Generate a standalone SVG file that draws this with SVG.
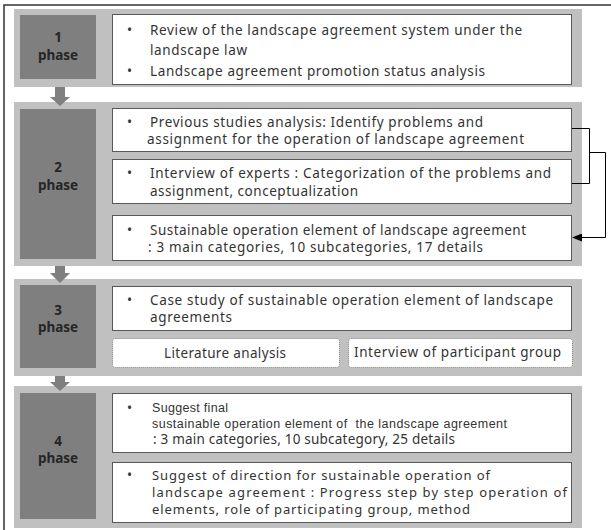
<svg xmlns="http://www.w3.org/2000/svg" width="611" height="530" viewBox="0 0 611 530">
<defs>
<style>
.band{fill:#c0c0c0}
.dark{fill:#7f7f7f}
.box{fill:#fff;stroke:#595959;stroke-width:1}
.dot{fill:#fff;stroke:#7f7f7f;stroke-width:1;stroke-dasharray:1 1}
.t{font-family:"Noto Sans","DejaVu Sans",sans-serif;font-size:13.5px;fill:#333}
.t2{font-size:13px}
.s{font-family:"Liberation Sans",Arial,sans-serif;font-size:12.5px;fill:#333}
.ph{font-family:"Noto Sans","DejaVu Sans",sans-serif;font-size:13.5px;font-weight:bold;fill:#262626;text-anchor:middle}
.arr{fill:#7f7f7f}
.ln{fill:none;stroke:#000;stroke-width:1}
</style>
<marker id="ah" markerWidth="10" markerHeight="8" refX="9" refY="4" orient="auto" markerUnits="userSpaceOnUse">
<path d="M0,0 L10,4 L0,8 Z" fill="#000"/>
</marker>
</defs>
<rect x="0" y="0" width="611" height="530" fill="#fff"/>
<path d="M4,530 V5 H611" fill="none" stroke="#333" stroke-width="1.5"/>

<g id="phase1">
<rect class="band" x="14" y="9" width="568" height="78"/>
<rect class="dark" x="20" y="15" width="76" height="64"/>
<text class="ph" x="58" y="42">1</text>
<text class="ph" x="58" y="60">phase</text>
<rect class="box" x="112.5" y="14.5" width="459" height="70"/>
<text class="t" x="127" y="35">•</text>
<text class="t" x="150" y="35" textLength="372" lengthAdjust="spacing">Review of the landscape agreement system under the</text>
<text class="t" x="150" y="55" textLength="97" lengthAdjust="spacing">landscape law</text>
<text class="t" x="127" y="76">•</text>
<text class="t" x="150" y="76" textLength="335" lengthAdjust="spacing">Landscape agreement promotion status analysis</text>
</g>

<g id="phase2">
<rect class="band" x="14" y="102" width="568" height="164"/>
<rect class="dark" x="20" y="109" width="76" height="150"/>
<text class="ph" x="58" y="172">2</text>
<text class="ph" x="58" y="190">phase</text>
<g id="box2a">
<rect class="box" x="112.5" y="108.5" width="459" height="43"/>
<text class="t" x="127" y="127">•</text>
<text class="t" x="150" y="127" textLength="333" lengthAdjust="spacing">Previous studies analysis: Identify problems and</text>
<text class="t" x="147" y="144" textLength="377" lengthAdjust="spacing">assignment for the operation of landscape agreement</text>
</g>
<g id="box2b">
<rect class="box" x="112.5" y="159.5" width="459" height="44"/>
<text class="t" x="127" y="178">•</text>
<text class="t" x="150" y="178" textLength="401" lengthAdjust="spacing">Interview of experts : Categorization of the problems and</text>
<text class="t" x="150" y="196" textLength="208" lengthAdjust="spacing">assignment, conceptualization</text>
</g>
<g id="box2c">
<rect class="box" x="112.5" y="215.5" width="459" height="45"/>
<text class="t" x="127" y="235">•</text>
<text class="t" x="150" y="235" textLength="376" lengthAdjust="spacing">Sustainable operation element of landscape agreement</text>
<text class="t" x="148" y="252" textLength="335" lengthAdjust="spacing">: 3 main categories, 10 subcategories, 17 details</text>
</g>
</g>

<g id="phase3">
<rect class="band" x="14" y="279" width="568" height="97"/>
<rect class="dark" x="20" y="285" width="76" height="83"/>
<text class="ph" x="58" y="315">3</text>
<text class="ph" x="58" y="332">phase</text>
<g id="box3a">
<rect class="box" x="112.5" y="286.5" width="459" height="44"/>
<text class="t" x="127" y="305">•</text>
<text class="t" x="150" y="305" textLength="403" lengthAdjust="spacing">Case study of sustainable operation element of landscape</text>
<text class="t" x="150" y="322" textLength="82" lengthAdjust="spacing">agreements</text>
</g>
<g id="lit">
<rect class="dot" x="112.5" y="338.5" width="227" height="29" rx="3"/>
<text class="t" x="164" y="358" textLength="122" lengthAdjust="spacing">Literature analysis</text>
</g>
<g id="interview">
<rect class="dot" x="348.5" y="338.5" width="224" height="29" rx="3"/>
<text class="t" x="354" y="357" textLength="207" lengthAdjust="spacing">Interview of participant group</text>
</g>
</g>

<g id="phase4">
<rect class="band" x="14" y="386" width="568" height="142"/>
<rect class="dark" x="20" y="393" width="76" height="126"/>
<text class="ph" x="58" y="446">4</text>
<text class="ph" x="58" y="463">phase</text>
<g id="box4a">
<rect class="box" x="112.5" y="393.5" width="459" height="59"/>
<text class="t" x="127" y="413">•</text>
<text class="s" x="152" y="412" textLength="76" lengthAdjust="spacing">Suggest final</text>
<text class="s" x="152" y="428" xml:space="preserve" textLength="355" lengthAdjust="spacing">sustainable operation element of  the landscape agreement</text>
<text class="t" x="153" y="444" textLength="302" lengthAdjust="spacing">: 3 main categories, 10 subcategory, 25 details</text>
</g>
<g id="box4b">
<rect class="box" x="112.5" y="462.5" width="459" height="60"/>
<text class="t" x="127" y="480">•</text>
<text class="t t2" x="152" y="480" textLength="338" lengthAdjust="spacing">Suggest of direction for sustainable operation of</text>
<text class="t t2" x="152" y="497" textLength="415" lengthAdjust="spacing">landscape agreement : Progress step by step operation of</text>
<text class="t t2" x="152" y="514" textLength="318" lengthAdjust="spacing">elements, role of participating group, method</text>
</g>
</g>

<g id="connectors">
<path class="arr" d="M55,87 H65 V97 H70 L60,106 L50,97 H55 Z"/>
<path class="arr" d="M55,266 H65 V273 H70 L60,283 L50,273 H55 Z"/>
<path class="arr" d="M55,376 H65 V382 H70 L60,391 L50,382 H55 Z"/>
<path class="ln" d="M572,128.5 H589.5 V183.5 H572"/>
<path class="ln" d="M589.5,152.5 H605.5 V237.5 H573" marker-end="url(#ah)"/>
</g>
</svg>
